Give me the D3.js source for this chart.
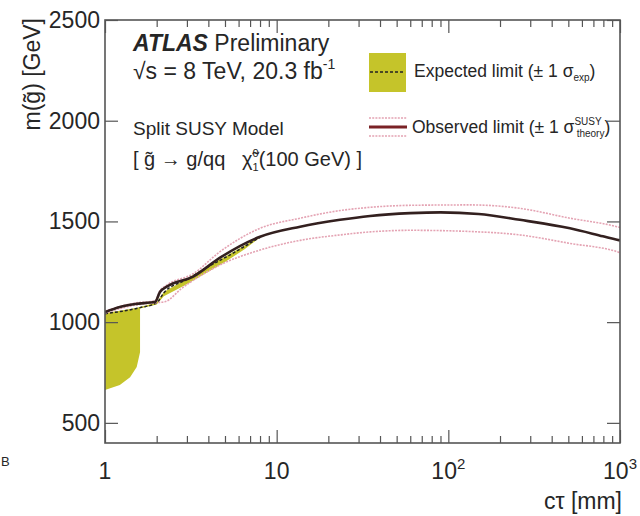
<!DOCTYPE html>
<html>
<head>
<meta charset="utf-8">
<script src="https://cdn.jsdelivr.net/npm/d3@7"></script>
<style>
  body { margin: 0; background: #fff; }
  svg { display: block; }
  text { font-family: "Liberation Sans", Arial, Helvetica, sans-serif; fill: #262626; white-space: pre; }
</style>
</head>
<body>
<div id="chart"></div>
<script>
// ---- data ----
// observed limit (solid)
const ctObs = [1, 1.22, 1.5, 1.96, 2.09, 2.29, 3.26, 4.68, 8, 13.7, 23.4, 35, 60, 90, 150, 261, 511, 796, 960, 1000];
const mObs  = [1050, 1075, 1090, 1101, 1150, 1176, 1226, 1320, 1424, 1474, 1508, 1527, 1541, 1545, 1537, 1508, 1466, 1426, 1409, 1406];

// observed +/- 1 sigma theory (dotted)
const ctUp = [1, 1.5, 1.96, 2.09, 2.29, 3.26, 4.68, 8, 13.7, 23.4, 35, 60, 134, 261, 511, 960, 1000];
const mUp  = [1055, 1095, 1106, 1156, 1184, 1240, 1350, 1466, 1516, 1554, 1570, 1580, 1582, 1565, 1516, 1474, 1470];
const ctDown = [1, 1.5, 1.96, 2.23, 2.8, 4.68, 8, 13.7, 23.4, 35, 60, 134, 261, 511, 960, 1000];
const mDown  = [1045, 1085, 1096, 1101, 1168, 1284, 1358, 1406, 1433, 1448, 1456, 1450, 1433, 1391, 1350, 1345];

// expected +/- 1 sigma band
const bandCt   = [1, 1.22, 1.4, 1.53, 1.6, 1.6, 2.0, 2.2, 3, 4, 5, 6.5, 8];
const bandLow  = [663, 688, 727, 777, 850, 1068, 1088, 1128, 1188, 1250, 1298, 1362, 1420];
const bandHigh = [1045, 1057, 1065, 1071, 1075, 1075, 1098, 1150, 1215, 1280, 1325, 1380, 1422];

// expected median (dashed)
const expCt = [1, 1.6, 2.0, 2.2, 3, 4, 5, 6.5, 8];
const expM  = [1042, 1072, 1096, 1145, 1212, 1276, 1320, 1376, 1421];

// axis ticks
const xMajor = [1, 10, 100, 1000];
const xLabelBase = ["1", "10", "10", "10"];
const xLabelExp  = ["", "", "2", "3"];
const yMajor = [500, 1000, 1500, 2000, 2500];

// ---- layout ----
const W = 640, H = 516;
const L = 105, R = 620, T = 20, B = 443;

const svg = d3.select('#chart').append('svg')
    .attr('width', W).attr('height', H);
svg.append('rect').attr('width', W).attr('height', H).attr('fill', '#fff');

const x = d3.scaleLog().domain([1, 1000]).range([L, R]);
const y = d3.scaleLinear().domain([400, 2500]).range([B, T]);

svg.append('defs').append('clipPath').attr('id', 'plot')
    .append('rect').attr('x', L).attr('y', T).attr('width', R - L).attr('height', B - T);

const plot = svg.append('g').attr('clip-path', 'url(#plot)');

// expected band
const band = d3.area()
    .x((d, i) => x(bandCt[i]))
    .y0((d, i) => y(bandLow[i]))
    .y1((d, i) => y(bandHigh[i]));
plot.append('path')
    .attr('d', band(bandCt))
    .attr('fill', '#c5c42a');

const line = d3.line()
    .x(d => x(d[0]))
    .y(d => y(d[1]))
    .curve(d3.curveMonotoneX);

// expected median
plot.append('path')
    .attr('d', line(d3.zip(expCt, expM)))
    .attr('fill', 'none')
    .attr('stroke', '#222')
    .attr('stroke-width', 1.5)
    .attr('stroke-dasharray', '3,2');

// theory bands
[[ctUp, mUp], [ctDown, mDown]].forEach(([cx, cm]) => {
    plot.append('path')
        .attr('d', line(d3.zip(cx, cm)))
        .attr('fill', 'none')
        .attr('stroke', '#e4a3b3')
        .attr('stroke-width', 1.6)
        .attr('stroke-dasharray', '2,1.2');
});

// observed
plot.append('path')
    .attr('d', line(d3.zip(ctObs, mObs)))
    .attr('fill', 'none')
    .attr('stroke', '#33201f')
    .attr('stroke-width', 2.6);

// ---- axes (ROOT style: ticks inside, mirrored) ----
const minor = [];
for (let dec = 1; dec < 1000; dec *= 10) {
    for (let k = 2; k <= 9; k++) minor.push(dec * k);
}

svg.append('g').attr('transform', `translate(0,${B})`)
    .call(d3.axisBottom(x).tickValues(minor).tickSize(-7).tickFormat(''));
svg.append('g').attr('transform', `translate(0,${B})`)
    .call(d3.axisBottom(x).tickValues(xMajor).tickSize(-13).tickFormat(''));
svg.append('g').attr('transform', `translate(0,${T})`)
    .call(d3.axisTop(x).tickValues(minor).tickSize(-7).tickFormat(''));
svg.append('g').attr('transform', `translate(0,${T})`)
    .call(d3.axisTop(x).tickValues(xMajor).tickSize(-13).tickFormat(''));
svg.append('g').attr('transform', `translate(${L},0)`)
    .call(d3.axisLeft(y).tickValues(yMajor).tickSize(-13).tickFormat(''));
svg.append('g').attr('transform', `translate(${R},0)`)
    .call(d3.axisRight(y).tickValues(yMajor).tickSize(-13).tickFormat(''));

svg.selectAll('.domain').remove();
svg.selectAll('.tick line').attr('stroke', '#555').attr('stroke-width', 1.2);

svg.append('rect')
    .attr('x', L).attr('y', T).attr('width', R - L).attr('height', B - T)
    .attr('fill', 'none').attr('stroke', '#555').attr('stroke-width', 1.6);

// tick labels
svg.selectAll('.ylab').data(yMajor).join('text')
    .attr('class', 'ylab')
    .attr('x', L - 5)
    .attr('y', d => y(d) + 8)
    .attr('text-anchor', 'end')
    .attr('font-size', 23)
    .text(d => d);

xMajor.forEach((v, i) => {
    const t = svg.append('text')
        .attr('x', x(v))
        .attr('y', 479)
        .attr('text-anchor', 'middle')
        .attr('font-size', 23);
    t.append('tspan').text(xLabelBase[i]);
    if (xLabelExp[i]) {
        t.append('tspan').attr('dy', -10).attr('font-size', 15).text(xLabelExp[i]);
    }
});

// axis titles
svg.append('text')
    .attr('x', R + 2).attr('y', 509)
    .attr('text-anchor', 'end')
    .attr('font-size', 23)
    .text('cτ [mm]');

svg.append('text')
    .attr('transform', 'translate(40,18) rotate(-90)')
    .attr('text-anchor', 'end')
    .attr('font-size', 23)
    .text('m(g\u0303) [GeV]');

// stray crop fragment at left edge
svg.append('text')
    .attr('x', 1).attr('y', 466)
    .attr('font-size', 13)
    .attr('fill', '#777')
    .text('B');

// ---- labels ----
const t1 = svg.append('text').attr('x', 133).attr('y', 51).attr('font-size', 23);
t1.append('tspan').attr('font-weight', 'bold').attr('font-style', 'italic').text('ATLAS');
t1.append('tspan').text(' Preliminary');

const t2 = svg.append('text').attr('x', 133).attr('y', 79).attr('font-size', 23);
t2.append('tspan').text('\u221As = 8 TeV, 20.3 fb');
t2.append('tspan').attr('dy', -10).attr('font-size', 14).text('-1');

svg.append('text').attr('x', 133).attr('y', 135).attr('font-size', 19)
    .text('Split SUSY Model');

const t3 = svg.append('text').attr('x', 133).attr('y', 166).attr('font-size', 20);
t3.append('tspan').text('[ g\u0303 \u2192 g/qq   \u03C7\u0303');
t3.append('tspan').attr('dy', -9).attr('font-size', 11).text('0');
t3.append('tspan').attr('dx', -6).attr('dy', 14).attr('font-size', 11).text('1');
t3.append('tspan').attr('dy', -5).text('(100 GeV) ]');

// ---- legend ----
svg.append('rect').attr('x', 369).attr('y', 53).attr('width', 37).attr('height', 39)
    .attr('fill', '#c5c42a');
svg.append('line').attr('x1', 370).attr('x2', 405).attr('y1', 72).attr('y2', 72)
    .attr('stroke', '#222').attr('stroke-width', 1.5).attr('stroke-dasharray', '3,2');

const l1 = svg.append('text').attr('x', 414).attr('y', 77).attr('font-size', 17.5);
l1.append('tspan').text('Expected limit (\u00B1 1 \u03C3');
l1.append('tspan').attr('dy', 4).attr('font-size', 10).text('exp');
l1.append('tspan').attr('dy', -4).text(')');

[118, 136].forEach(yy => {
    svg.append('line').attr('x1', 369).attr('x2', 407).attr('y1', yy).attr('y2', yy)
        .attr('stroke', '#e4a3b3').attr('stroke-width', 1.6).attr('stroke-dasharray', '2,1.2');
});
svg.append('line').attr('x1', 369).attr('x2', 407).attr('y1', 127).attr('y2', 127)
    .attr('stroke', '#7a2226').attr('stroke-width', 3);

const l2 = svg.append('text').attr('x', 412).attr('y', 133).attr('font-size', 17.5);
l2.append('tspan').text('Observed limit (\u00B1 1 \u03C3');
l2.append('tspan').attr('dy', -8).attr('font-size', 10).text('SUSY');
l2.append('tspan').attr('dx', -25).attr('dy', 12).attr('font-size', 10).text('theory');
l2.append('tspan').attr('dy', -4).text(')');
</script>
</body>
</html>
